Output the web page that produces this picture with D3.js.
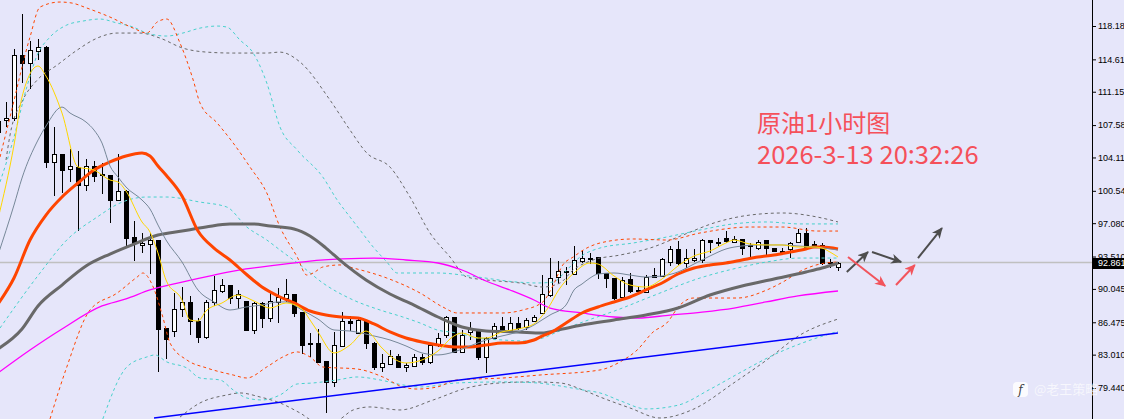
<!DOCTYPE html>
<html>
<head>
<meta charset="utf-8">
<title>原油1小时图</title>
<script src="https://cdn.jsdelivr.net/npm/d3@7"></script>
<style>
  body { margin: 0; background: #e6e6fa; }
  svg { display: block; }
  .wick { stroke: #000; stroke-width: 1; shape-rendering: crispEdges; }
  .body { stroke: #000; stroke-width: 1; shape-rendering: crispEdges; }
  .ind { fill: none; }
  .tick-label { font-family: "Liberation Sans", "DejaVu Sans", sans-serif; font-size: 9px; fill: #000; }
  .title { font-family: "Noto Sans CJK SC", sans-serif; fill: #f5505a; }
</style>
</head>
<body>
<svg id="chart" width="1124" height="419"></svg>
<script>
// ---- data ----
const firstBar = -1; // index of the first candle, partly cut by the left edge
const opens  = [108.01,108.12,108.33,115.07,114.22,115.50,115.93,103.63,104.48,102.88,103.09,101.16,103.20,102.34,102.23,99.56,100.52,95.60,94.75,94.85,95.28,85.86,85.54,87.90,88.65,86.61,84.90,88.65,89.82,90.46,89.07,88.75,85.65,88.54,86.93,88.65,89.07,89.50,87.57,84.26,84.26,82.33,80.09,83.94,86.61,85.33,86.72,84.26,81.69,82.01,82.87,81.69,81.80,82.76,82.23,84.04,85.11,87.04,83.30,85.44,85.65,82.76,84.79,86.08,85.65,86.40,85.97,86.61,87.47,89.39,91.32,91.86,91.64,93.03,93.35,93.46,91.75,91.21,89.18,91.11,89.93,89.71,91.53,91.43,92.93,94.32,92.82,93.14,93.14,95.28,95.07,95.49,95.07,95.39,94.75,94.42,95.28,94.42,94.10,94.31,95.07,96.03,94.85,94.75,92.95,92.39];
const highs  = [108.23,110.05,115.72,119.46,116.57,116.79,116.04,107.37,104.48,105.02,104.80,103.95,103.73,103.52,102.23,104.48,100.63,97.31,96.03,96.03,95.28,85.86,89.61,90.25,89.29,86.93,88.86,91.43,91.11,90.46,89.93,88.75,88.65,88.65,89.61,90.14,91.11,89.50,87.57,85.33,85.76,82.33,85.44,87.57,87.15,86.93,86.72,84.37,83.08,83.51,83.08,82.12,83.08,83.08,84.15,85.33,87.15,87.04,85.65,86.50,85.65,84.90,86.40,87.04,87.04,87.04,86.93,87.26,91.53,93.35,93.03,92.39,94.64,94.21,93.89,93.46,91.75,91.21,91.32,91.75,90.36,91.53,92.28,93.35,94.64,95.17,94.32,94.32,95.39,95.28,95.49,96.24,95.71,95.39,94.96,95.28,95.28,94.42,94.42,95.07,96.46,96.56,95.17,94.96,93.25,92.93];
const lows   = [106.51,107.37,108.01,112.08,111.44,114.54,102.98,99.99,100.31,101.49,96.24,100.52,101.49,100.20,97.10,99.56,94.53,93.03,93.89,91.64,81.16,82.55,84.90,87.04,85.11,84.26,84.69,88.22,89.61,88.43,87.90,85.54,85.22,85.86,86.50,86.40,88.65,87.04,83.08,82.76,82.23,76.77,79.55,83.83,85.54,85.22,83.62,81.37,81.16,81.90,81.69,81.16,81.69,81.90,82.01,83.83,84.79,83.19,83.19,84.58,82.44,81.05,84.69,85.33,85.44,85.65,85.65,86.61,87.47,89.18,90.57,90.46,91.64,92.82,92.71,91.11,90.14,88.86,89.18,89.61,89.61,89.71,91.32,91.32,92.50,92.61,92.28,92.93,92.82,93.89,94.64,94.96,94.96,93.67,93.46,94.21,93.67,94.00,93.67,93.35,94.96,94.53,94.42,92.61,92.28,92.00];
const closes = [106.84,108.33,115.07,114.22,115.61,115.93,103.63,104.48,102.77,103.20,101.16,103.20,102.13,102.23,99.56,100.52,95.49,94.96,94.96,95.28,85.76,84.69,87.90,88.65,86.61,84.90,88.65,89.93,90.46,89.07,89.50,85.65,88.54,86.93,88.75,89.18,89.50,87.47,84.04,84.15,82.23,80.09,84.04,86.61,86.40,86.72,84.26,81.69,82.12,82.87,81.69,81.90,82.76,82.23,84.04,84.79,87.04,83.30,85.11,85.76,82.76,84.79,86.08,85.44,86.40,85.86,86.72,87.04,89.50,91.21,92.00,92.00,93.14,93.35,93.25,91.75,91.21,89.07,91.00,89.82,89.82,91.32,91.32,93.25,94.32,92.82,93.35,93.35,95.28,95.07,94.96,95.17,95.39,94.42,94.64,95.07,94.42,94.10,94.00,94.96,96.03,94.53,94.64,92.82,92.80,92.86];

// moving averages, [bar index, price]
const maFast = [[-1,97.53],[1,105.44],[2,110.58],[4,113.90],[5,112.83],[7,108.87],[9,103.09],[11,102.77],[13,101.70],[14,101.49],[15,100.52],[17,97.21],[18,96.14],[19,93.89],[20,91.00],[22,88.86],[23,86.72],[24,86.61],[25,87.68],[27,88.54],[29,89.39],[31,88.75],[33,88.00],[35,88.54],[37,87.90],[38,86.72],[39,85.44],[41,83.19],[43,84.04],[45,85.54],[47,83.72],[49,82.33],[50,82.12],[52,82.44],[54,83.40],[56,85.01],[57,85.33],[59,84.79],[60,84.79],[62,85.44],[64,85.76],[66,86.29],[67,87.15],[68,88.32],[69,89.82],[71,91.75],[73,92.82],[74,92.71],[76,91.43],[78,90.46],[80,90.25],[82,91.11],[84,92.50],[86,93.57],[88,94.10],[90,94.96],[91,95.28],[93,94.85],[95,94.75],[97,94.75],[99,94.53],[101,94.53],[102,94.42],[103,93.99],[104,93.46]];
const maSlowThin = [[-1,93.67],[1,99.02],[2,101.91],[4,105.98],[5,107.48],[7,109.51],[8,108.87],[10,107.91],[11,107.05],[12,105.66],[13,103.20],[14,102.02],[15,100.95],[17,99.56],[18,98.60],[19,96.88],[20,95.28],[22,92.93],[24,89.93],[26,88.65],[28,87.79],[30,88.11],[32,88.32],[34,88.65],[35,88.65],[37,87.79],[39,86.82],[41,85.65],[43,85.54],[46,85.01],[48,84.58],[50,83.94],[52,83.19],[54,82.98],[56,83.30],[58,83.94],[60,84.58],[62,85.01],[64,85.44],[66,86.18],[67,86.72],[68,87.25],[70,88.32],[71,89.93],[72,90.57],[73,91.21],[74,91.64],[76,91.75],[78,91.53],[80,91.32],[82,91.43],[84,91.86],[86,92.71],[88,93.57],[90,94.32],[92,94.64],[94,94.75],[97,94.75],[99,94.64],[101,94.53],[104,94.21]];
const ma20 = [[-1,88.43],[1,91.21],[3,95.28],[5,97.95],[7,99.88],[9,101.38],[11,102.77],[13,103.63],[15,104.27],[17,104.59],[18,104.27],[19,103.20],[20,102.23],[22,99.99],[24,96.24],[26,94.42],[28,93.14],[30,91.64],[32,90.25],[34,89.29],[36,88.54],[38,87.68],[40,87.25],[42,87.04],[44,86.93],[46,86.29],[48,85.44],[50,84.79],[52,84.36],[54,84.04],[56,83.83],[58,83.83],[60,84.04],[62,84.26],[64,84.26],[66,84.58],[67,85.00],[68,85.33],[70,86.40],[72,87.47],[74,88.11],[76,88.65],[78,89.18],[80,89.93],[82,90.68],[84,91.64],[86,92.28],[88,92.61],[90,92.82],[92,93.14],[94,93.46],[96,93.67],[98,93.99],[100,94.32],[101,94.53],[102,94.53],[104,94.32]];
const ma60 = [[-1,83.62],[2,85.76],[4,88.22],[7,90.46],[10,92.50],[13,93.78],[16,94.85],[19,95.81],[22,96.24],[25,96.67],[28,96.99],[31,96.99],[33,96.78],[36,96.46],[38,95.71],[40,94.42],[42,92.93],[45,91.00],[48,89.50],[51,88.32],[54,87.04],[57,85.97],[60,85.54],[64,85.44],[67,85.33],[69,85.65],[72,86.18],[76,86.72],[80,87.25],[84,88.00],[88,89.39],[92,90.36],[96,91.11],[100,91.86],[102,92.28],[104,92.82]];
const ma120 = [[-1,81.05],[3,83.51],[7,85.76],[12,88.22],[15,88.97],[18,89.93],[22,90.78],[26,91.53],[30,92.18],[34,92.61],[38,93.03],[42,93.25],[46,93.35],[50,93.14],[54,92.82],[57,92.07],[60,90.89],[63,89.93],[66,88.86],[68,88.00],[72,87.47],[76,87.04],[79,86.93],[83,87.25],[87,87.57],[91,88.00],[95,88.65],[99,89.29],[104,89.82]];
const trendLine = [[18.5,76.23],[104,85.33]];

// band lines, [bar index, price]
const bandOrangeUp = [[-0.75,104.16],[0.5,108.44],[3,117.00],[4.25,120.21],[6.75,120.75],[8.25,120.64],[10.1,120.11],[13,119.14],[15.9,117.96],[17.6,117.43],[18.9,118.61],[20.1,118.93],[21.75,116.36],[23.4,112.40],[24.25,109.94],[26.4,107.80],[28.4,105.66],[30.5,103.09],[32.6,100.31],[34.25,96.67],[36.4,93.46],[37.6,91.53],[38.4,91.75],[39.6,92.39],[41.75,92.61],[43.4,92.28],[47.6,91.21],[51.75,89.61],[54.6,88.11],[56.4,87.47],[59.25,87.47],[62.1,87.47],[64.6,87.79],[67.1,88.65],[68.4,90.46],[69.6,92.61],[70.9,93.46],[72.6,94.42],[74.25,94.96],[78.4,95.39],[82.6,95.28],[86.75,96.03],[93,96.67],[97.1,96.67],[101.4,96.24],[104,96.24]];
const bandOrangeDn = [[5.5,76.13],[7.6,81.69],[10.5,87.79],[13.9,89.61],[16.4,91.32],[17.1,91.75],[18.4,90.25],[19.6,87.04],[20.5,84.26],[22.6,82.44],[25.1,81.58],[28.4,80.83],[30.1,80.51],[32.6,81.69],[34.6,82.76],[36.4,83.30],[38,82.76],[39.6,81.69],[43.9,81.47],[47.1,80.62],[49.6,79.55],[51.4,79.33],[53.9,79.55],[56.4,80.30],[62.1,80.51],[66.75,80.83],[74.25,81.37],[76.75,82.23],[78.9,83.51],[80.9,85.44],[82.6,86.40],[84.25,88.32],[85.9,89.07],[91.4,89.07],[95.1,89.93],[97.1,90.78],[99.6,92.07],[101.75,92.71],[104,92.93]];
const bandCyanUp = [[-0.75,101.49],[0.9,105.98],[2.6,111.65],[3.9,115.07],[5.5,117.00],[7.6,118.29],[9.6,118.71],[11.75,118.93],[13.9,118.50],[15.9,118.07],[17.6,117.43],[20.1,117.11],[22.1,117.43],[24.25,117.96],[26.4,118.18],[27.6,118.07],[29.25,116.68],[30.9,115.29],[32.6,112.08],[34.25,107.37],[36.4,104.91],[39.6,102.02],[41.4,99.56],[43,97.74],[44.25,96.35],[45.9,94.53],[47.6,92.93],[48.9,91.75],[53.9,91.75],[58.9,91.32],[63.9,90.78],[66.4,90.68],[68.4,90.78],[70.1,92.07],[71.75,93.46],[74.25,94.42],[78.4,94.96],[82.6,95.60],[86.75,96.35],[90.9,97.00],[95.1,97.21],[99.25,97.00],[104,97.00]];
const bandCyanMid = [[-0.75,85.86],[4.25,91.75],[7.6,95.28],[11.4,97.74],[14.25,99.24],[17.6,99.88],[20.1,99.88],[24.25,99.34],[27.6,98.81],[30.1,96.67],[32.6,95.28],[34.25,94.21],[37.1,92.39],[39.6,90.68],[43.4,88.86],[46.75,87.79],[49.6,87.04],[51.75,86.40],[53.9,85.65],[56.4,85.33],[58.9,84.79],[62.1,84.58],[64.6,84.47],[67.1,84.79],[68.9,85.44],[72.1,86.50],[76.4,87.79],[80.5,89.18],[86.75,91.21],[91.4,92.28],[95.1,92.93],[99.25,93.35],[104,93.35]];
const bandCyanDn = [[12.1,76.12],[15.1,81.69],[17.6,82.76],[18.6,82.98],[20.1,82.23],[22.6,81.58],[24.25,80.51],[26.75,80.30],[28.4,79.23],[30.1,78.37],[32,78.16],[34.25,78.69],[36.4,79.87],[38.4,79.98],[41.4,80.30],[43.9,80.62],[46.75,80.30],[49.6,79.77],[51.75,79.55],[56.4,79.98],[62.1,80.09],[66.4,79.98],[69.25,79.66],[72.1,79.23],[74.25,78.91],[77,78.00],[80,77.20],[84,77.60],[88,79.30],[92,81.20],[96,83.00],[100,84.40],[104,85.50]];
const bandGreyUp = [[0,103.84],[0.5,106.50],[2.1,110.26],[3.9,112.40],[6.4,114.01],[8.9,115.61],[11.4,116.89],[13.9,117.43],[16.75,117.43],[19.25,116.89],[22.1,115.82],[25.1,115.39],[28.4,115.29],[32.6,115.29],[34.25,115.39],[36.75,114.33],[40.5,110.26],[43,107.05],[45.1,104.59],[48,103.09],[50.5,99.88],[53,96.03],[55.5,93.46],[57.6,91.32],[60.1,91.00],[64.25,90.68],[67.1,90.25],[69.25,90.68],[70.9,92.07],[73.4,93.14],[76.75,93.67],[80.5,94.42],[84.6,95.81],[88.9,97.21],[93,97.95],[97.1,98.17],[101.4,97.74],[104,97.21]];
const bandGreyDn = [[21.75,76.33],[24.25,77.84],[27.6,78.69],[29.25,78.91],[31.75,78.48],[34.25,77.84],[36.75,76.77],[38.6,75.90],[41.1,75.90],[43.4,77.09],[45.5,77.41],[49.25,77.09],[53.4,78.16],[57.6,79.44],[61.75,79.98],[65.9,80.09],[69.25,79.98],[72.1,79.23],[74.25,78.48],[78,77.30],[81.75,76.23],[86,77.20],[91,80.00],[95.1,82.44],[99.25,85.11],[104,86.82]];

// hand-drawn forecast arrows, [bar index, price] start and end
const arrowsGrey = [[[105.1,91.86],[107.75,94.00]],[[108.25,94.00],[111.9,92.93]],[[114,93.35],[117,96.56]]];
const arrowsRed  = [[[105.25,93.46],[109.9,90.36]],[[111.25,90.46],[113.6,92.61]]];

// price scale
const tickValues = [118.185,114.615,111.150,107.580,104.115,100.545,97.080,93.510,90.045,86.475,83.010,79.440,75.870];
const tickLabels = ["118.185","114.615","111.150","107.580","104.115","100.545","97.080","93.510","90.045","86.475","83.010","79.440","75.870"];
const lastPrice = 92.861;
const titleLines = ["原油1小时图", "2026-3-13 20:32:26"];
const watermark = "@老王策略";

// ---- drawing ----
const width = 1124, height = 419, axisX = 1092;
const svg = d3.select('#chart');

const x = d3.scaleLinear().domain([0, 104]).range([6, 838]);
const y = d3.scaleLinear().domain([79.44, 118.185]).range([388, 26]);

svg.append('rect').attr('width', width).attr('height', height).attr('fill', '#e6e6fa');

// last price line
svg.append('line')
  .attr('x1', 0).attr('x2', axisX)
  .attr('y1', y(lastPrice)).attr('y2', y(lastPrice))
  .attr('stroke', '#c0c0c0').attr('stroke-width', 1.5);

// candles
const bars = opens.map((o, k) => ({ i: k + firstBar, o: o, h: highs[k], l: lows[k], c: closes[k] }));
const gBars = svg.append('g').attr('class', 'bars');
gBars.selectAll('line.wick').data(bars).join('line')
  .attr('class', 'wick')
  .attr('x1', d => Math.round(x(d.i)) + 0.5).attr('x2', d => Math.round(x(d.i)) + 0.5)
  .attr('y1', d => y(d.h)).attr('y2', d => y(d.l));
gBars.selectAll('rect.body').data(bars).join('rect')
  .attr('class', 'body')
  .attr('x', d => Math.round(x(d.i)) - 1.5)
  .attr('width', 4)
  .attr('y', d => Math.round(y(Math.max(d.o, d.c))) + 0.5)
  .attr('height', d => Math.max(1, Math.round(Math.abs(y(d.o) - y(d.c)))))
  .attr('fill', d => d.c >= d.o ? '#fff' : '#000');

// indicator lines
const line = d3.line().x(d => x(d[0])).y(d => y(d[1])).curve(d3.curveMonotoneX);
const gInd = svg.append('g').attr('class', 'indicators');
function drawLine(data, color, w, dash) {
  const p = gInd.append('path').datum(data)
    .attr('class', 'ind')
    .attr('d', line)
    .attr('stroke', color)
    .attr('stroke-width', w);
  if (dash) p.attr('stroke-dasharray', dash);
  return p;
}
drawLine(bandGreyUp, '#696969', 1, '3,3');
drawLine(bandGreyDn, '#696969', 1, '3,3');
drawLine(bandCyanUp, '#48d1cc', 1, '3,3');
drawLine(bandCyanMid, '#48d1cc', 1, '3,3');
drawLine(bandCyanDn, '#48d1cc', 1, '3,3');
drawLine(bandOrangeUp, '#ff4500', 1, '3,3');
drawLine(bandOrangeDn, '#ff4500', 1, '3,3');
drawLine(ma120, '#ff00ff', 1.3);
drawLine(trendLine, '#0000ff', 1.5);
drawLine(ma60, '#696969', 3);
drawLine(ma20, '#ff4500', 3);
drawLine(maSlowThin, '#778899', 1);
drawLine(maFast, '#ffd700', 1);

// arrows
const defs = svg.append('defs');
[['grey', '#4d4d4d'], ['red', '#f2545c']].forEach(([id, col]) => {
  defs.append('marker')
    .attr('id', 'head-' + id)
    .attr('markerUnits', 'userSpaceOnUse')
    .attr('markerWidth', 12).attr('markerHeight', 10)
    .attr('refX', 10).attr('refY', 5)
    .attr('orient', 'auto')
    .append('path').attr('d', 'M0,0 L11,5 L0,10 L3,5 Z').attr('fill', col);
});
const gArrows = svg.append('g').attr('class', 'arrows');
gArrows.selectAll('line.ag').data(arrowsGrey).join('line')
  .attr('x1', d => x(d[0][0])).attr('y1', d => y(d[0][1]))
  .attr('x2', d => x(d[1][0])).attr('y2', d => y(d[1][1]))
  .attr('stroke', '#4d4d4d').attr('stroke-width', 2)
  .attr('marker-end', 'url(#head-grey)');
gArrows.selectAll('line.ar').data(arrowsRed).join('line')
  .attr('x1', d => x(d[0][0])).attr('y1', d => y(d[0][1]))
  .attr('x2', d => x(d[1][0])).attr('y2', d => y(d[1][1]))
  .attr('stroke', '#f2545c').attr('stroke-width', 2)
  .attr('marker-end', 'url(#head-red)');

// title
svg.append('text').attr('class', 'title').attr('x', 757).attr('y', 132)
  .style('font-size', '24px').text(titleLines[0]);
svg.append('text').attr('class', 'title').attr('x', 757).attr('y', 164)
  .style('font-size', '25.5px').text(titleLines[1]);

// price axis
const axis = d3.axisRight(y).tickValues(tickValues).tickSize(4)
  .tickFormat((d, k) => tickLabels[k]);
const gAxis = svg.append('g').attr('transform', `translate(${axisX},0)`).call(axis);
gAxis.select('.domain').remove();
gAxis.selectAll('.tick line').attr('stroke', '#000');
gAxis.selectAll('.tick text').attr('class', 'tick-label').attr('x', 6).attr('dy', '0.32em');
svg.append('line').attr('x1', axisX + 0.5).attr('x2', axisX + 0.5).attr('y1', 0).attr('y2', height)
  .attr('stroke', '#000').attr('stroke-width', 1);

// last price tag
const tagY = Math.round(y(lastPrice));
svg.append('rect').attr('x', axisX + 1).attr('y', tagY - 5).attr('width', width - axisX).attr('height', 11).attr('fill', '#000');
svg.append('text').attr('class', 'tick-label').attr('x', axisX + 6).attr('y', tagY).attr('dy', '0.35em')
  .style('fill', '#fff').text(lastPrice.toFixed(3));

// watermark
const gWm = svg.append('g').attr('opacity', 0.85);
gWm.append('rect').attr('x', 1013).attr('y', 382).attr('width', 15).attr('height', 15).attr('rx', 4).attr('fill', '#fff');
gWm.append('text').attr('x', 1020.5).attr('y', 394).attr('text-anchor', 'middle')
  .style('font-family', 'DejaVu Serif, serif').style('font-style', 'italic').style('font-size', '12px').style('fill', '#222').text('f');
gWm.append('text').attr('x', 1034).attr('y', 394)
  .style('font-family', '"Noto Sans CJK SC", sans-serif').style('font-size', '13px').style('fill', '#fff').style('opacity', 0.8)
  .text(watermark);
</script>
</body>
</html>
